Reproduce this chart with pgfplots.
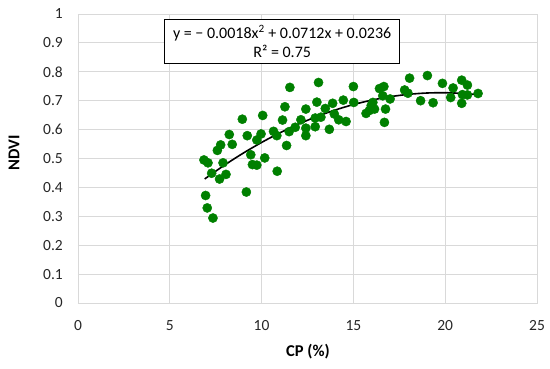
\documentclass[border=0pt]{standalone}
\usepackage{fontspec}
\setmainfont{Carlito}
\usepackage{pgfplots}
\pgfplotsset{compat=1.18}
\definecolor{dotgreen}{RGB}{0,128,0}
\definecolor{gridgray}{RGB}{217,217,217}
\begin{document}
\begin{tikzpicture}
\begin{axis}[
  scale only axis,
  width=459pt, height=289pt,
  at={(0,0)}, anchor=south west,
  xmin=0, xmax=25, ymin=0, ymax=1,
  xtick={0,5,...,25},
  ytick={0,0.1,...,1},
  yticklabels={0,0.1,0.2,0.3,0.4,0.5,0.6,0.7,0.8,0.9,1},
  major tick length=0pt,
  grid=major,
  grid style={gridgray, line width=0.9pt},
  axis line style={gridgray, line width=0.9pt},
  /pgf/number format/assume math mode=true,
  ticklabel style={font=\fontsize{15.5}{17}\selectfont, text=black!85, inner sep=0pt},
  xticklabel style={anchor=base, yshift=-27.5pt},
  yticklabel style={anchor=east, xshift=-15pt},
  xlabel={\textbf{CP (\%)}},
  ylabel={\textbf{NDVI}},
  label style={font=\fontsize{16.5}{18}\selectfont},
  xlabel style={at={(rel axis cs:0.501,-0.168)}, anchor=center},
  ylabel style={at={(rel axis cs:-0.1394,0.52)}, anchor=center, rotate=0},
  clip=false,
]
\addplot[only marks, mark=*, mark size=4.6pt, mark options={fill=dotgreen, draw=dotgreen}] coordinates {
(6.86,0.495) (7.08,0.485) (7.28,0.449) (6.95,0.372) (7.04,0.329) (7.35,0.294)
(7.59,0.528) (7.77,0.547) (7.90,0.485) (7.71,0.429) (8.06,0.445) (8.24,0.583)
(8.40,0.549) (8.95,0.636) (9.22,0.579) (9.17,0.384) (9.41,0.513) (9.50,0.479)
(9.74,0.477) (9.74,0.564) (9.97,0.585) (10.06,0.649) (10.17,0.502) (10.65,0.594)
(10.83,0.579) (10.85,0.456) (11.14,0.633) (11.27,0.679) (11.36,0.545) (11.50,0.593)
(11.83,0.608) (12.14,0.634) (12.41,0.671) (12.41,0.605) (12.41,0.579) (12.92,0.610)
(13.01,0.695) (12.92,0.640) (13.23,0.643) (13.47,0.673) (13.69,0.601) (13.87,0.691)
(13.96,0.654) (14.20,0.634) (14.45,0.702) (14.60,0.628) (15.02,0.694) (15.69,0.656)
(15.87,0.666) (11.54,0.746) (13.10,0.763) (15.00,0.749)
(15.97,0.683) (16.06,0.694) (16.15,0.671) (16.42,0.742) (16.66,0.749) (16.60,0.717)
(16.75,0.671) (16.69,0.625) (17.00,0.706) (17.79,0.737) (17.97,0.726) (18.06,0.778)
(18.66,0.700) (19.03,0.787) (19.34,0.693) (19.85,0.760) (20.30,0.711) (20.43,0.744)
(20.90,0.771) (20.90,0.691) (20.94,0.721) (21.21,0.754) (21.21,0.720) (21.79,0.725)
};
\addplot[black, line width=1.6pt, smooth] coordinates {
(6.9,0.4292) (8,0.478) (9,0.5186) (10,0.5556) (11,0.589) (12,0.6188) (13,0.645)
(14,0.6676) (15,0.6866) (16,0.702) (17,0.7138) (18,0.722) (19,0.7266) (20,0.7276)
(21,0.725) (21.8,0.7204)
};
\node[draw=black, line width=1pt, fill=white, align=center, inner xsep=3pt, inner ysep=2pt,
  font=\fontsize{16}{19.5}\selectfont, minimum width=235pt, minimum height=44pt]
  at (axis cs:11.12,0.905) {y = − 0.0018x\textsuperscript{2} + 0.0712x + 0.0236\\R² = 0.75};
\end{axis}
\pgfresetboundingbox
\path (-78pt,-65pt) rectangle (472pt,303pt);
\end{tikzpicture}
\end{document}
